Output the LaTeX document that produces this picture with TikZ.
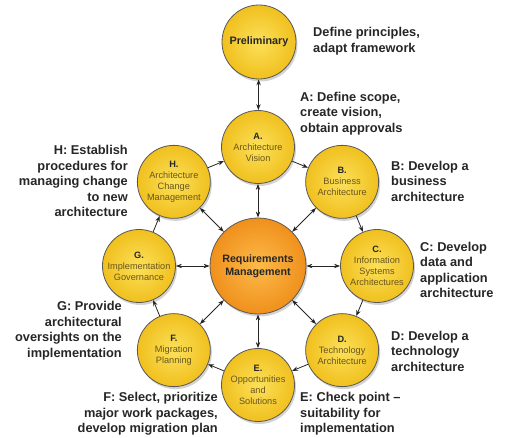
\documentclass[tikz,border=0pt]{standalone}
\usepackage{fontspec}
\setmainfont{Liberation Sans}
\usetikzlibrary{arrows.meta, shadows}

\definecolor{ringyel}{RGB}{240,192,30}
\definecolor{ringlite}{RGB}{252,224,90}
\definecolor{reqorange}{RGB}{240,144,28}
\definecolor{reqlite}{RGB}{252,186,74}
\definecolor{rimgray}{RGB}{88,88,88}
\definecolor{phasetext}{RGB}{104,86,28}
\definecolor{darktext}{RGB}{38,38,38}

\begin{document}
\begin{tikzpicture}[x=1pt, y=1pt, >={Stealth[length=6pt,width=4.4pt]},
    phase/.style={circle, draw=rimgray, line width=.8pt, inner color=ringlite, outer color=ringyel,
        minimum size=73pt, inner sep=0pt, align=center, text=phasetext,
        font=\fontsize{9.2}{11}\selectfont,
        drop shadow={shadow xshift=1.5pt, shadow yshift=-2.5pt, opacity=.35}},
    note/.style={font=\fontsize{12.8}{15.5}\selectfont\bfseries, text=darktext, inner sep=0pt},
    link/.style={draw=darktext, line width=.8pt}]

%\draw[step=20, color=gray!40] (-258,-172) grid (248,266);
\useasboundingbox (-258,-172) rectangle (248,266);

% centre and preliminary
\node[phase, minimum size=96pt, inner color=reqlite, outer color=reqorange, text=darktext,
    font=\fontsize{10.7}{13.3}\selectfont\bfseries] (req) at (0,0) {Requirements\\Management};

\node[phase, minimum size=74pt, text=darktext, font=\fontsize{10.8}{13}\selectfont\bfseries]
    (prelim) at (1,224) {Preliminary};

% the eight phases
\foreach \n/\a/\t in {A/90/{Architecture\\Vision}, B/45/{Business\\Architecture},
        C/0/{Information\\Systems\\Architectures}, D/-45/{Technology\\Architecture},
        E/-90/{Opportunities\\and\\Solutions}, F/-135/{Migration\\Planning},
        G/180/{Implementation\\Governance}, H/135/{Architecture\\Change\\Management}}
    \node[phase] (\n) at (\a:119) {{\color{darktext}\textbf{\n.}}\\\t};

\draw[link, <->] (prelim) -- (A);

\foreach \n in {A,B,C,D,E,F,G,H}
    \draw[link, <->] (req) -- (\n);

\foreach \n/\m in {A/B, B/C, C/D, D/E, E/F, F/G, G/H, H/A}
    \draw[link, ->] (\n) -- (\m);

% descriptions
\node[note, anchor=west, align=left] (labP) at (55,225) {Define principles,\\adapt framework};
\node[note, anchor=west, align=left] (labA) at (42,152.5) {A: Define scope,\\create vision,\\obtain approvals};
\node[note, anchor=west, align=left] (labB) at (133,85) {B: Develop a\\business\\architecture};
\node[note, anchor=west, align=left] (labC) at (162,-4) {C: Develop\\data and\\application\\architecture};
\node[note, anchor=west, align=left] (labD) at (133,-85) {D: Develop a\\technology\\architecture};
\node[note, anchor=west, align=left] (labE) at (42,-148) {E: Check point --\\suitability for\\implementation};
\node[note, anchor=east, align=right] (labF) at (-40,-148) {F: Select, prioritize\\major work packages,\\develop migration plan};
\node[note, anchor=east, align=right] (labG) at (-136,-64.5) {G: Provide\\architectural\\oversights on the\\implementation};
\node[note, anchor=east, align=right] (labH) at (-130,85) {H: Establish\\procedures for\\managing change\\to new\\architecture};

\end{tikzpicture}
\end{document}
